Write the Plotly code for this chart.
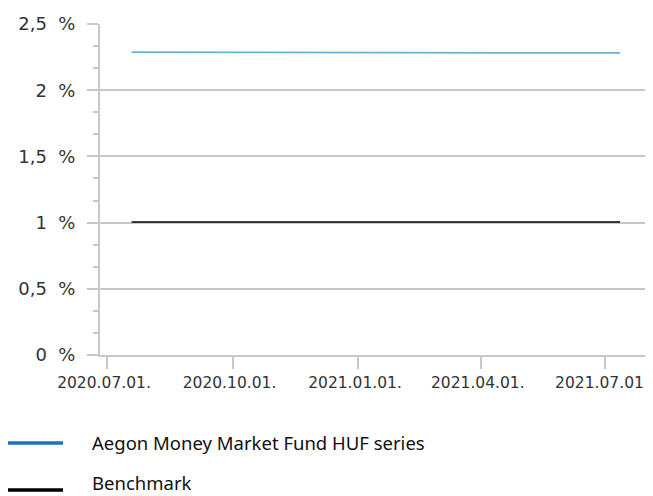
import plotly.graph_objects as go

# ---- data ----
dates = ["2020-07-19", "2020-08-19", "2020-09-19", "2020-10-19", "2020-11-19",
         "2020-12-19", "2021-01-19", "2021-02-19", "2021-03-19", "2021-04-19",
         "2021-05-19", "2021-06-19", "2021-07-12"]
fund = [2.287, 2.286, 2.285, 2.284, 2.284, 2.284, 2.284, 2.284, 2.283, 2.282,
        2.282, 2.282, 2.282]
benchmark = [1.005] * len(dates)
y_ticks = [0, 0.5, 1, 1.5, 2, 2.5]
y_ticktext = ["0", "0,5", "1", "1,5", "2", "2,5"]
series_names = ["Aegon Money Market Fund HUF series", "Benchmark"]

OFF = 8  # page body margin
W, H = 653 - OFF, 496 - OFF
ML, MR, MT, MB = 100 - OFF, 0, 24 - OFF, 141
PH = H - MT - MB
PW = W - ML - MR
GREY = "#c8c8c8"
TEXT = "#333333"

fig = go.Figure()
fig.add_trace(go.Scatter(x=dates, y=fund, mode="lines", name=series_names[0],
                         line=dict(color="#62b5d3", width=1.8), showlegend=False))
fig.add_trace(go.Scatter(x=dates, y=benchmark, mode="lines", name=series_names[1],
                         line=dict(color="#000000", width=1.6), showlegend=False))

def px_x(pix):
    return (pix - OFF - ML) / PW

def px_y(pix):
    return (H - MB - (pix - OFF)) / PH

# manual legend
legend_items = [(series_names[0], "#1a73c0", 443, 442),
                (series_names[1], "#000000", 490, 483)]
shapes, annotations = [], []
for name, col, ypix, ytext in legend_items:
    shapes.append(dict(type="line", xref="paper", yref="paper",
                       x0=px_x(7), x1=px_x(63),
                       y0=px_y(ypix), y1=px_y(ypix), line=dict(color=col, width=3.5)))
    annotations.append(dict(xref="paper", yref="paper", x=px_x(90),
                            y=px_y(ytext), xanchor="left", yanchor="middle",
                            text=name, showarrow=False,
                            font=dict(family="Noto Sans", size=18.5, color="#111111")))

fig.update_layout(
    width=W, height=H,
    margin=dict(l=ML, r=MR, t=MT, b=MB, pad=0),
    paper_bgcolor="white", plot_bgcolor="white",
    font=dict(family="DejaVu Sans", size=16, color=TEXT),
    shapes=shapes, annotations=annotations,
    xaxis=dict(
        type="date",
        range=["2020-06-25 21:00", "2021-08-05 05:00"],
        tick0="2020-07-01", dtick="M3", tickformat="%Y.%m.%d.",
        showgrid=False, zeroline=False,
        showline=True, linecolor=GREY, linewidth=2,
        ticks="outside", ticklen=12, tickwidth=2, tickcolor=GREY,
        ticklabeloverflow="allow", ticklabelshift=-3,
        tickfont=dict(family="DejaVu Sans", size=15.5, color=TEXT),
    ),
    yaxis=dict(
        range=[0, 2.5],
        tickvals=y_ticks,
        ticktext=[t + "\u00a0\u00a0%" for t in y_ticktext],
        showgrid=True, gridcolor=GREY, gridwidth=1.5,
        zeroline=False,
        showline=True, linecolor=GREY, linewidth=2,
        ticks="outside", ticklen=11, tickwidth=1.5, tickcolor=GREY,
        ticklabelstandoff=8,
        minor=dict(tick0=0, dtick=0.5 / 3, ticks="outside", ticklen=5,
                   tickwidth=1.5, tickcolor=GREY, showgrid=False),
        tickfont=dict(family="DejaVu Sans", size=18, color=TEXT),
    ),
)

fig.write_html("out.html")
